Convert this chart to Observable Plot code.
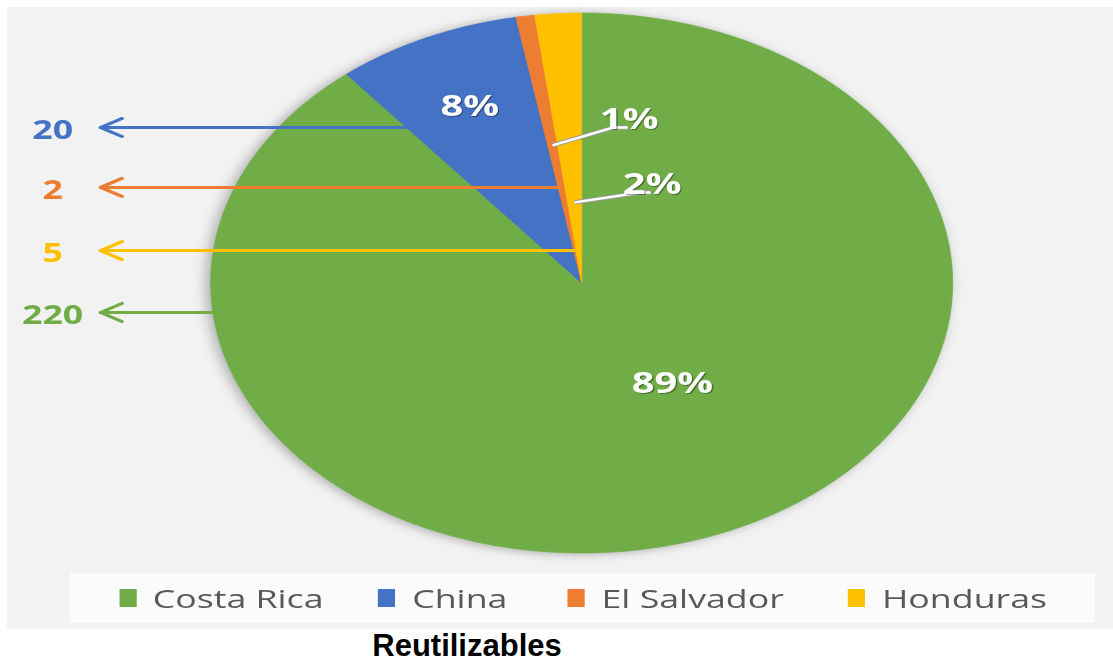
<!DOCTYPE html>
<html>
<head>
<meta charset="utf-8">
<script src="https://cdn.jsdelivr.net/npm/d3@7"></script>
<script src="https://cdn.jsdelivr.net/npm/@observablehq/plot@0.6"></script>
<style>
  html, body { margin: 0; padding: 0; background: #ffffff; width: 1113px; height: 661px; overflow: hidden; }
  #bg { position: absolute; left: 7px; top: 7px; width: 1106px; height: 622px; background: #f2f2f2; }
  #stage { position: absolute; left: 0; top: 0; width: 810px; height: 629px; transform: scaleX(1.374074); transform-origin: 0 0; }
  #chart { position: absolute; left: 0; top: 0; }
  #legendbox { position: absolute; left: 51px; top: 573px; width: 746px; height: 50px; background: #fbfbfb;
               display: flex; align-items: center; padding-left: 35.6px; box-sizing: border-box; overflow: visible; }
  #legendbox .lg-swatches { margin: 0 !important; min-height: 0 !important; flex-wrap: nowrap !important; white-space: nowrap; }
  #legendbox .lg-swatches-wrap .lg-swatch { margin-right: 40px !important; white-space: nowrap; }
  #legendbox .lg-swatches-wrap .lg-swatch:nth-of-type(2) { margin-right: 44px !important; }
  #legendbox .lg-swatches-wrap .lg-swatch:nth-of-type(3) { margin-right: 47px !important; }
  #legendbox .lg-swatch > svg { margin-right: 12px !important; }
  #title { position: absolute; left: 267px; width: 400px; top: 631px; text-align: center;
           font: bold 31px/30px "Liberation Sans", Arial, sans-serif; color: #000; }
</style>
</head>
<body>
<div id="bg"></div>
<div id="stage">
  <div id="chart"></div>
  <div id="legendbox"></div>
</div>
<div id="title"></div>
<script>
// ---- data ----
const countries = ["Costa Rica", "China", "El Salvador", "Honduras"];
const counts = [220, 20, 2, 5];
const colors = ["#70AD47", "#4472C4", "#ED7D31", "#FFC000"];
const chartTitle = "Reutilizables";

// ---- annotation layout (not data) ----
const arrowLevel = {"China": 0.576, "El Salvador": 0.354, "Honduras": 0.12, "Costa Rica": -0.109};
const arrowTipX = -1.297;
const valueLabelX = -1.426;
const insideLabel = {"Costa Rica": {r: 0.445, da: -13.7}, "China": {r: 0.72, da: 0}};
const callout = {
  "El Salvador": {r0: 0.516, elbow: [0.086, 0.576], end: [0.124, 0.576]},
  "Honduras":    {r0: 0.299, elbow: [0.159, 0.335], end: [0.186, 0.335]}
};

// ---- geometry ----
const W = 810, H = 629;
const total = d3.sum(counts);
const arcs = d3.pie().sort(null).value(d => d)(counts);
const slices = countries.map((name, i) => ({
  name, value: counts[i], a0: arcs[i].startAngle, a1: arcs[i].endAngle,
  mid: (arcs[i].startAngle + arcs[i].endAngle) / 2,
  pct: Math.round(counts[i] / total * 100)
}));
const pt = (a, r) => ({x: r * Math.sin(a), y: r * Math.cos(a)});

const piePts = [];
for (const s of slices) {
  const n = Math.max(2, Math.ceil((s.a1 - s.a0) / (Math.PI / 360)));
  piePts.push({name: s.name, x: 0, y: 0});
  for (let k = 0; k <= n; k++) {
    const p = pt(s.a0 + (s.a1 - s.a0) * k / n, 1);
    piePts.push({name: s.name, x: p.x, y: p.y});
  }
  piePts.push({name: s.name, x: 0, y: 0});
}
const outline = d3.range(0, 361, 2).map(d => pt(d * Math.PI / 180, 1));

const arrows = slices.map(s => {
  const y = arrowLevel[s.name];
  const spansLeft = s.a0 <= 1.5 * Math.PI && s.a1 >= 1.5 * Math.PI;
  const x1 = spansLeft ? -Math.sqrt(1 - y * y) : y * Math.tan(s.mid);
  return {name: s.name, y, x1, x2: arrowTipX, lx: valueLabelX, text: String(s.value)};
});

const pctLabels = [];
const leaders = [];
for (const s of slices) {
  if (insideLabel[s.name]) {
    const L = insideLabel[s.name];
    const p = pt(s.mid + L.da * Math.PI / 180, L.r);
    pctLabels.push({x: p.x, y: p.y, text: s.pct + "%", anchor: "middle"});
  } else if (callout[s.name]) {
    const C = callout[s.name];
    const p0 = pt(s.mid, C.r0);
    leaders.push({id: s.name, x: p0.x, y: p0.y});
    leaders.push({id: s.name, x: C.elbow[0], y: C.elbow[1]});
    leaders.push({id: s.name, x: C.end[0], y: C.end[1]});
    pctLabels.push({x: C.end[0] + 0.004, y: C.end[1] + 0.03, text: s.pct + "%", anchor: "start"});
  }
}

const cx = 422.83, cy = 282.5, R = 270;
const xDomain = [-cx / R, (W - cx) / R];
const yDomain = [(cy - H) / R, cy / R];
const font = "'Open Sans', 'Noto Sans', sans-serif";

const plot = Plot.plot({
  width: W, height: H,
  margin: 0, marginTop: 0, marginRight: 0, marginBottom: 0, marginLeft: 0,
  x: {domain: xDomain, axis: null},
  y: {domain: yDomain, axis: null},
  color: {type: "ordinal", domain: countries, range: colors},
  style: {background: "transparent", overflow: "visible"},
  marks: [
    Plot.line(outline, {x: "x", y: "y", fill: "#000000", fillOpacity: 0.3, stroke: "none", dx: -3, dy: 1, curve: "linear"}),
    Plot.line(piePts, {x: "x", y: "y", z: "name", fill: "name", stroke: "name", strokeWidth: 0.6, curve: "linear"}),
    Plot.arrow(arrows, {x1: "x1", y1: "y", x2: "x2", y2: "y", stroke: "name", strokeWidth: 3, headLength: 9, headAngle: 60}),
    Plot.text(arrows, {x: "lx", y: "y", text: "text", fill: "name", fontSize: 26, fontWeight: "bold", fontFamily: font, dy: 3}),
    Plot.line(leaders, {x: "x", y: "y", z: "id", stroke: "#9a9a9a", strokeWidth: 4.4, curve: "linear", strokeLinecap: "butt"}),
    Plot.line(leaders, {x: "x", y: "y", z: "id", stroke: "#ffffff", strokeWidth: 2.4, curve: "linear", strokeLinecap: "butt"}),
    Plot.text(pctLabels, {x: "x", y: "y", text: "text", textAnchor: d => d.anchor, fill: "rgba(0,0,0,0.35)", dx: 1, dy: 1.5, fontSize: 29, fontWeight: "bold", fontFamily: font}),
    Plot.text(pctLabels, {x: "x", y: "y", text: "text", textAnchor: d => d.anchor, fill: "#ffffff", fontSize: 29, fontWeight: "bold", fontFamily: font})
  ]
});
const svgSel = d3.select(plot);
const defs = svgSel.insert("defs", ":first-child");
defs.append("filter").attr("id", "pieShadowBlur")
  .attr("x", "-20%").attr("y", "-20%").attr("width", "140%").attr("height", "140%")
  .append("feGaussianBlur").attr("stdDeviation", 5);
const shadowGroup = plot.querySelector('g[aria-label="line"]');
if (shadowGroup) shadowGroup.setAttribute("filter", "url(#pieShadowBlur)");
document.getElementById("chart").appendChild(plot);

const legend = Plot.legend({
  color: {type: "ordinal", domain: countries, range: colors},
  legend: "swatches", swatchWidth: 12.5, swatchHeight: 18, className: "lg",
  style: {fontFamily: font, fontSize: "26px", color: "#595959", background: "transparent"}
});
document.getElementById("legendbox").appendChild(legend);
document.getElementById("title").textContent = chartTitle;
</script>
</body>
</html>
